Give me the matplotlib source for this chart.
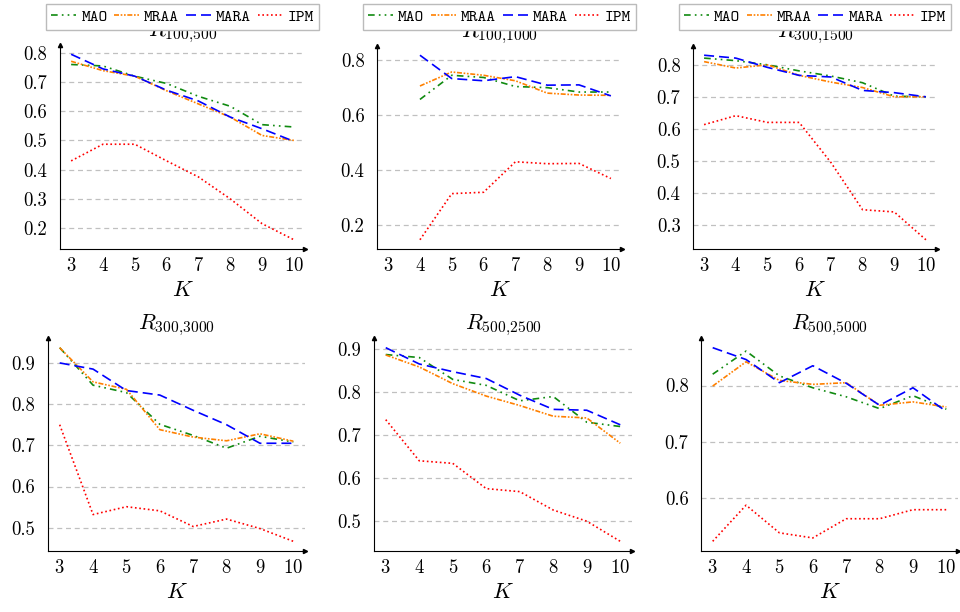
import numpy as np
import matplotlib
matplotlib.use("Agg")
import matplotlib.pyplot as plt

plt.rcParams['font.family'] = ['cmr10', 'DejaVu Sans']
plt.rcParams['mathtext.fontset'] = 'cm'
plt.rcParams['axes.formatter.use_mathtext'] = True

K = [3, 4, 5, 6, 7, 8, 9, 10]
nan = np.nan

# R_{100,500}
mao_100_500 = [0.760, 0.755, 0.720, 0.695, 0.651, 0.617, 0.554, 0.546]
mraa_100_500 = [0.771, 0.739, 0.720, 0.670, 0.625, 0.580, 0.517, 0.500]
mara_100_500 = [0.795, 0.745, 0.720, 0.672, 0.635, 0.580, 0.540, 0.497]
ipm_100_500 = [0.430, 0.487, 0.487, 0.430, 0.375, 0.300, 0.215, 0.160]

# R_{100,1000}
mao_100_1000 = [nan, 0.657, 0.745, 0.737, 0.704, 0.700, 0.684, 0.684]
mraa_100_1000 = [nan, 0.706, 0.757, 0.745, 0.725, 0.680, 0.673, 0.672]
mara_100_1000 = [nan, 0.818, 0.733, 0.725, 0.740, 0.709, 0.710, 0.670]
ipm_100_1000 = [nan, 0.146, 0.314, 0.319, 0.430, 0.423, 0.424, 0.369]

# R_{300,1500}
mao_300_1500 = [0.821, 0.813, 0.800, 0.781, 0.765, 0.744, 0.702, 0.700]
mraa_300_1500 = [0.810, 0.790, 0.800, 0.767, 0.746, 0.729, 0.700, 0.700]
mara_300_1500 = [0.830, 0.821, 0.792, 0.767, 0.762, 0.720, 0.713, 0.700]
ipm_300_1500 = [0.613, 0.641, 0.620, 0.620, 0.495, 0.347, 0.340, 0.253]

# R_{300,3000}
mao_300_3000 = [0.937, 0.846, 0.828, 0.751, 0.724, 0.693, 0.722, 0.708]
mraa_300_3000 = [0.937, 0.854, 0.836, 0.738, 0.720, 0.711, 0.728, 0.710]
mara_300_3000 = [0.900, 0.885, 0.833, 0.822, 0.785, 0.750, 0.705, 0.705]
ipm_300_3000 = [0.750, 0.532, 0.551, 0.541, 0.503, 0.521, 0.498, 0.467]

# R_{500,2500}
mao_500_2500 = [0.888, 0.881, 0.830, 0.816, 0.780, 0.790, 0.730, 0.720]
mraa_500_2500 = [0.887, 0.859, 0.820, 0.791, 0.769, 0.744, 0.740, 0.681]
mara_500_2500 = [0.904, 0.866, 0.848, 0.832, 0.793, 0.760, 0.758, 0.724]
ipm_500_2500 = [0.736, 0.640, 0.634, 0.575, 0.568, 0.525, 0.499, 0.452]

# R_{500,5000}
mao_500_5000 = [0.820, 0.861, 0.817, 0.796, 0.780, 0.759, 0.782, 0.758]
mraa_500_5000 = [0.799, 0.842, 0.809, 0.802, 0.805, 0.765, 0.771, 0.762]
mara_500_5000 = [0.867, 0.846, 0.805, 0.835, 0.804, 0.765, 0.796, 0.754]
ipm_500_5000 = [0.524, 0.588, 0.539, 0.530, 0.564, 0.564, 0.580, 0.580]

titles = [r'$R_{100{,}500}$', r'$R_{100{,}1000}$', r'$R_{300{,}1500}$',
          r'$R_{300{,}3000}$', r'$R_{500{,}2500}$', r'$R_{500{,}5000}$']
yticks = [[0.2, 0.3, 0.4, 0.5, 0.6, 0.7, 0.8],
          [0.2, 0.4, 0.6, 0.8],
          [0.3, 0.4, 0.5, 0.6, 0.7, 0.8],
          [0.5, 0.6, 0.7, 0.8, 0.9],
          [0.5, 0.6, 0.7, 0.8, 0.9],
          [0.6, 0.7, 0.8]]
panels = [
    (mao_100_500, mraa_100_500, mara_100_500, ipm_100_500),
    (mao_100_1000, mraa_100_1000, mara_100_1000, ipm_100_1000),
    (mao_300_1500, mraa_300_1500, mara_300_1500, ipm_300_1500),
    (mao_300_3000, mraa_300_3000, mara_300_3000, ipm_300_3000),
    (mao_500_2500, mraa_500_2500, mara_500_2500, ipm_500_2500),
    (mao_500_5000, mraa_500_5000, mara_500_5000, ipm_500_5000),
]
names = ['MAO', 'MRAA', 'MARA', 'IPM']

styles = [
    dict(color='#108a10', linestyle=(0, (4, 2.5, 1, 2.5, 1, 2.5))),
    dict(color='#ff8000', linestyle=(0, (3, 1, 1, 1, 1, 1))),
    dict(color='#0000ff', linestyle=(0, (6, 3))),
    dict(color='#ff0000', linestyle=(0, (1, 1.6))),
]

# axes boxes in pixels: left, bottom(from top), width, height
W, H = 960, 612
boxes = [(60, 249, 245, 204), (377, 249, 245, 203), (693, 249, 244, 203),
         (48, 551, 257, 213), (374, 551, 258, 213), (701, 551, 257, 213)]

fig = plt.figure(figsize=(W / 100, H / 100), dpi=100)

for i, (left, bot, w, h) in enumerate(boxes):
    ax = fig.add_axes([left / W, (H - bot) / H, w / W, h / H])
    for vals, name, st in zip(panels[i], names, styles):
        ax.plot(K, vals, lw=1.2, label=name, **st)

    allv = np.array(panels[i], dtype=float)
    lo, hi = np.nanmin(allv), np.nanmax(allv)
    pad = 0.05 * (hi - lo)
    ax.set_ylim(lo - pad, hi + pad)
    ax.set_xlim(2.65, 10.35)

    ax.set_xticks(K)
    ax.set_yticks(yticks[i])
    ax.set_yticklabels(['%.1f' % t for t in yticks[i]])
    ax.tick_params(length=0, labelsize=13.5)
    ax.tick_params(axis='x', pad=6)
    ax.tick_params(axis='y', pad=9)
    ax.yaxis.grid(True, color='#c0c0c0', linestyle=(0, (4, 3)), lw=0.9)
    ax.set_axisbelow(True)

    for s in ['top', 'right']:
        ax.spines[s].set_visible(False)
    for s in ['left', 'bottom']:
        ax.spines[s].set_linewidth(0.8)
    ax.plot(1, 0, '>k', ms=3, transform=ax.transAxes, clip_on=False)
    ax.plot(0, 1, '^k', ms=3, transform=ax.transAxes, clip_on=False)

    ax.set_title(titles[i], fontsize=16, pad=1)
    ax.set_xlabel(r'$K$', fontsize=16, labelpad=4)

    if i < 3:
        cx = (left + w / 2) / W
        ax.legend(loc='upper center', bbox_to_anchor=(cx, 1 - 4 / H),
                  bbox_transform=fig.transFigure, ncol=4,
                  prop={'family': 'cmtt10', 'size': 12},
                  handlelength=1.5, handletextpad=0.3, columnspacing=0.4,
                  borderpad=0.3, borderaxespad=0, fancybox=False,
                  edgecolor='#bbbbbb', framealpha=1)

fig.savefig('out.png', dpi=100)
